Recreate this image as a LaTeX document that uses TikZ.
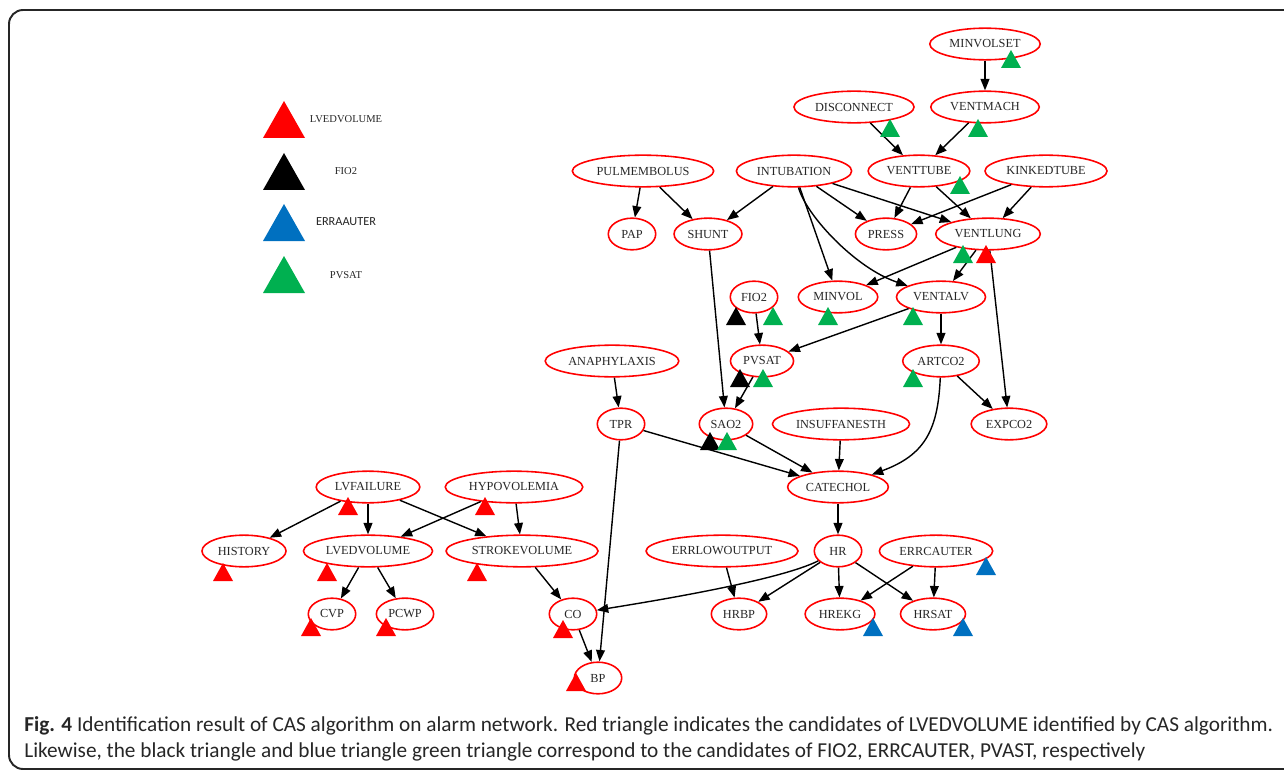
\documentclass[tikz,border=0pt]{standalone}
\usepackage{fontspec}
\setmainfont{Liberation Serif}
\newfontfamily\capfont{Carlito}
\usetikzlibrary{arrows.meta,shapes.geometric}

\definecolor{triRed}{RGB}{255,0,0}
\definecolor{triBlack}{RGB}{0,0,0}
\definecolor{triBlue}{RGB}{0,112,192}
\definecolor{triGreen}{RGB}{0,176,80}

\begin{document}
\begin{tikzpicture}[x=0.02cm,y=-0.02cm]
% y is negative, so y runs downwards as in the bitmap

% style
\tikzset{
    every node/.style={font=\fontsize{7}{8}\selectfont, text=black!85},
    varNode/.style={draw=red, line width=0.9pt, ellipse, inner xsep=2pt, inner ysep=1pt,
                    minimum width=27pt, minimum height=18pt},
    arrowLine/.style={draw, line width=0.8pt, ->, >={Triangle[length=6.5pt, width=5pt]}},
    capLine/.style={font=\capfont\fontsize{12.1}{14.8}\selectfont, anchor=base west, inner sep=0pt}
}

\useasboundingbox (0,0) rectangle (1284,770);

% frame
\draw[line width=1.1pt, black!85, rounded corners=8pt] (1300,10) -- (9,10) -- (9,769) -- (1300,769);

% legend
\foreach \y/\c in {101/triRed, 153/triBlack, 204/triBlue, 256/triGreen} {
    \fill[\c] (284,\y) -- ++(-21,37) -- ++(42,0) -- cycle;
}
\node[font=\fontsize{6}{7}\selectfont] (legLved)  at (346,119) {LVEDVOLUME};
\node[font=\fontsize{6}{7}\selectfont] (legFio)   at (346,171) {FIO2};
\node[font=\capfont\fontsize{7}{8}\selectfont] (legErr) at (346,222) {ERRAAUTER};
\node[font=\fontsize{6}{7}\selectfont] (legPvsat) at (346,275) {PVSAT};

% variables
\node[varNode] (minvolset)    at ( 985, 44) {MINVOLSET};
\node[varNode] (disconnect)   at ( 854,107) {DISCONNECT};
\node[varNode] (ventmach)     at ( 985,107) {VENTMACH};
\node[varNode] (pulmembolus)  at ( 643,171) {PULMEMBOLUS};
\node[varNode] (intubation)   at ( 794,171) {INTUBATION};
\node[varNode] (venttube)     at ( 919,171) {VENTTUBE};
\node[varNode] (kinkedtube)   at (1046,171) {KINKEDTUBE};
\node[varNode] (pap)          at ( 632,234) {PAP};
\node[varNode] (shunt)        at ( 708,234) {SHUNT};
\node[varNode] (press)        at ( 886,234) {PRESS};
\node[varNode] (ventlung)     at ( 988,234) {VENTLUNG};
\node[varNode] (fio2)         at ( 754,297) {FIO2};
\node[varNode] (minvol)       at ( 838,297) {MINVOL};
\node[varNode] (ventalv)      at ( 941,297) {VENTALV};
\node[varNode] (anaphylaxis)  at ( 612,361) {ANAPHYLAXIS};
\node[varNode] (pvsat)        at ( 762,361) {PVSAT};
\node[varNode] (artco2)       at ( 941,361) {ARTCO2};
\node[varNode] (tpr)          at ( 621,424) {TPR};
\node[varNode] (sao2)         at ( 726,424) {SAO2};
\node[varNode] (insuffanesth) at ( 841,424) {INSUFFANESTH};
\node[varNode] (expco2)       at (1009,424) {EXPCO2};
\node[varNode] (lvfailure)    at ( 368,487) {LVFAILURE};
\node[varNode] (hypovolemia)  at ( 514,487) {HYPOVOLEMIA};
\node[varNode] (catechol)     at ( 838,487) {CATECHOL};
\node[varNode] (history)      at ( 244,551) {HISTORY};
\node[varNode] (lvedvolume)   at ( 368,551) {LVEDVOLUME};
\node[varNode] (strokevolume) at ( 522,551) {STROKEVOLUME};
\node[varNode] (errlowoutput) at ( 722,551) {ERRLOWOUTPUT};
\node[varNode] (hr)           at ( 838,551) {HR};
\node[varNode] (errcauter)    at ( 936,551) {ERRCAUTER};
\node[varNode] (cvp)          at ( 332,614) {CVP};
\node[varNode] (pcwp)         at ( 405,614) {PCWP};
\node[varNode] (co)           at ( 573,614) {CO};
\node[varNode] (hrbp)         at ( 739,614) {HRBP};
\node[varNode] (hrekg)        at ( 840,614) {HREKG};
\node[varNode] (hrsat)        at ( 933,614) {HRSAT};
\node[varNode] (bp)           at ( 598,678) {BP};

% arrows
\draw[arrowLine] (minvolset) -- (ventmach);
\draw[arrowLine] (disconnect) -- (venttube);
\draw[arrowLine] (ventmach) -- (venttube);
\draw[arrowLine] (pulmembolus) -- (pap);
\draw[arrowLine] (pulmembolus) -- (shunt);
\draw[arrowLine] (intubation) -- (shunt);
\draw[arrowLine] (intubation) -- (press);
\draw[arrowLine] (intubation) -- (ventlung);
\draw[arrowLine] (intubation) -- (minvol);
\draw[arrowLine] (intubation) .. controls (806,215) and (855,268) .. (ventalv);
\draw[arrowLine] (venttube) -- (press);
\draw[arrowLine] (venttube) -- (ventlung);
\draw[arrowLine] (kinkedtube) -- (press);
\draw[arrowLine] (kinkedtube) -- (ventlung);
\draw[arrowLine] (ventlung) -- (minvol);
\draw[arrowLine] (ventlung) -- (ventalv);
\draw[arrowLine] (ventlung) -- (expco2);
\draw[arrowLine] (shunt) -- (sao2);
\draw[arrowLine] (fio2) -- (pvsat);
\draw[arrowLine] (ventalv) -- (pvsat);
\draw[arrowLine] (ventalv) -- (artco2);
\draw[arrowLine] (pvsat) -- (sao2);
\draw[arrowLine] (artco2) -- (expco2);
\draw[arrowLine] (artco2) .. controls (938,430) and (925,455) .. (catechol);
\draw[arrowLine] (anaphylaxis) -- (tpr);
\draw[arrowLine] (tpr) -- (catechol);
\draw[arrowLine] (tpr) -- (bp);
\draw[arrowLine] (sao2) -- (catechol);
\draw[arrowLine] (insuffanesth) -- (catechol);
\draw[arrowLine] (catechol) -- (hr);
\draw[arrowLine] (hr) .. controls (780,580) and (660,600) .. (co);
\draw[arrowLine] (hr) -- (hrbp);
\draw[arrowLine] (hr) -- (hrekg);
\draw[arrowLine] (hr) -- (hrsat);
\draw[arrowLine] (errlowoutput) -- (hrbp);
\draw[arrowLine] (errcauter) -- (hrekg);
\draw[arrowLine] (errcauter) -- (hrsat);
\draw[arrowLine] (lvfailure) -- (history);
\draw[arrowLine] (lvfailure) -- (lvedvolume);
\draw[arrowLine] (lvfailure) -- (strokevolume);
\draw[arrowLine] (hypovolemia) -- (lvedvolume);
\draw[arrowLine] (hypovolemia) -- (strokevolume);
\draw[arrowLine] (lvedvolume) -- (cvp);
\draw[arrowLine] (lvedvolume) -- (pcwp);
\draw[arrowLine] (strokevolume) -- (co);
\draw[arrowLine] (co) -- (bp);

% candidate marks (apex x, apex y, colour)
\foreach \x/\y/\c in {
    1011/50/triGreen,
    890/119/triGreen, 978/119/triGreen,
    960/176/triGreen,
    963/245/triGreen, 986/245/triRed,
    736/307/triBlack, 773/307/triGreen, 828/307/triGreen, 913/307/triGreen,
    740/369/triBlack, 763/369/triGreen, 913/369/triGreen,
    710/432/triBlack, 727/432/triGreen,
    348/497/triRed, 485/497/triRed,
    223/563/triRed, 327/563/triRed, 477/563/triRed,
    986/557/triBlue,
    311/618/triRed, 386/618/triRed, 563/620/triRed,
    873/618/triBlue, 963/618/triBlue,
    576/673/triRed} {
    \fill[\c] (\x,\y) -- ++(-10,18) -- ++(20,0) -- cycle;
}

% caption
\node[capLine] (capLine1) at (24,731)
    {\textbf{Fig. 4} Identification result of CAS algorithm on alarm network. Red triangle indicates the candidates of LVEDVOLUME identified by CAS algorithm.};
\node[capLine] (capLine2) at (24,757)
    {Likewise, the black triangle and blue triangle green triangle correspond to the candidates of FIO2, ERRCAUTER, PVAST, respectively};

\end{tikzpicture}
\end{document}
